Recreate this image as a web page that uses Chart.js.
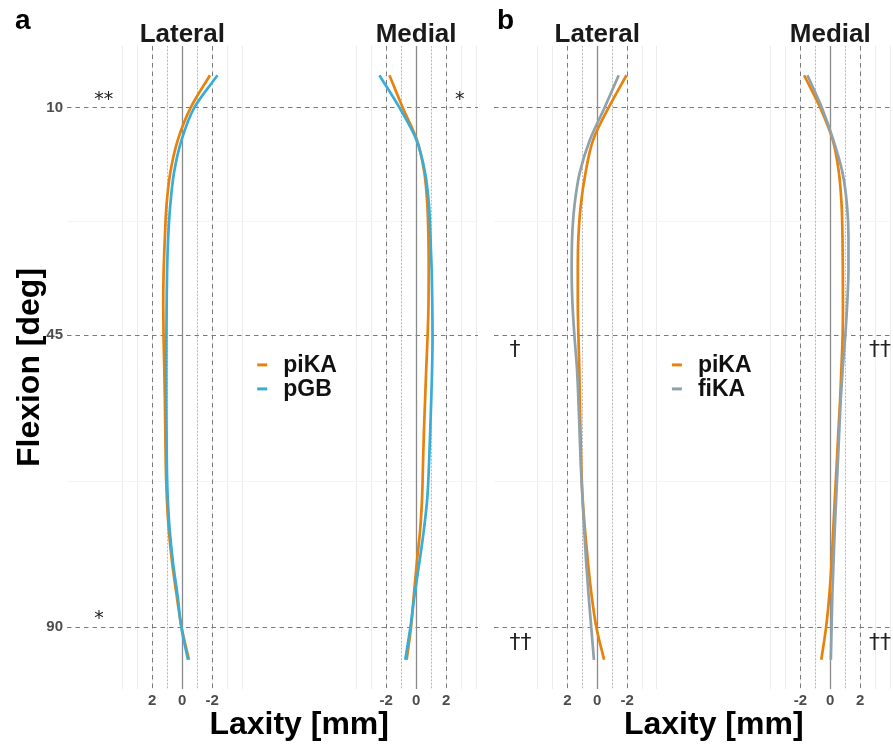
<!DOCTYPE html>
<html><head><meta charset="utf-8">
<script src="https://cdn.jsdelivr.net/npm/chart.js@4/dist/chart.umd.min.js"></script>
<style>
html,body{margin:0;padding:0;background:#fff;}
#wrap{position:relative;width:893px;height:744px;overflow:hidden;background:#fff;}
canvas{position:absolute;top:0;}
</style></head><body>
<div id="wrap">
<canvas id="ca" width="486" height="744" style="left:0px"></canvas>
<canvas id="cb" width="407" height="744" style="left:486px"></canvas>
</div>
<script>
// ---------------- data (laxity in mm vs flexion in deg) ----------------
const flexion = [5,10,15,20,25,30,35,40,45,50,55,60,65,70,75,80,85,90,95];

const aLateral_piKA = [-1.85,-0.56,0.30,0.80,1.05,1.16,1.24,1.27,1.25,1.20,1.16,1.13,1.10,1.03,0.90,0.68,0.38,0.05,-0.45];
const aLateral_pGB  = [-2.35,-0.80,0.05,0.55,0.80,0.94,1.01,1.04,1.06,1.07,1.07,1.05,1.03,0.97,0.84,0.62,0.32,0.06,-0.38];
const aMedial_piKA  = [-1.78,-0.89,0.06,0.55,0.75,0.82,0.84,0.83,0.77,0.68,0.60,0.52,0.46,0.40,0.27,0.05,-0.15,-0.34,-0.63];
const aMedial_pGB   = [-2.45,-1.11,0.03,0.60,0.86,0.96,1.04,1.08,1.10,1.07,1.01,0.94,0.86,0.75,0.52,0.22,-0.10,-0.38,-0.72];

const bLateral_piKA = [-1.96,-0.76,0.28,0.78,1.10,1.26,1.30,1.30,1.26,1.20,1.16,1.12,1.07,0.98,0.82,0.62,0.38,0.06,-0.46];
const bLateral_fiKA = [-1.44,-0.49,0.50,1.17,1.52,1.68,1.71,1.66,1.53,1.36,1.26,1.18,1.10,0.99,0.87,0.74,0.58,0.40,0.22];
const bMedial_piKA  = [-1.75,-0.67,0.17,0.58,0.76,0.82,0.84,0.85,0.83,0.75,0.66,0.54,0.43,0.31,0.20,0.09,-0.06,-0.28,-0.60];
const bMedial_fiKA  = [-1.53,-0.56,0.21,0.82,1.12,1.22,1.22,1.14,1.01,0.84,0.70,0.60,0.50,0.40,0.30,0.22,0.14,0.09,0.04];

const flexionTicks = [10,45,90];
const flexionMinor = [27.5,67.5];
const laxityGrid = [-4,-3,-2,-1,0,1,2,3,4];
const laxityTickLabels = [2,0,-2];
const refSolid = [0];
const refDotted = [-1,1];
const refDashed = [-2,2];
const compartments = ['Lateral','Medial'];
const medialOffset = 15.6;   // separation of the two compartments on the shared axis

const notesA = [
  {text:'**', x:-5.87, y:8.9},
  {text:'*',  x:18.2,  y:8.9},
  {text:'*',  x:-5.87, y:88.8}
];
const notesB = [
  {text:'\u2020',       x:-5.87, y:47.3},
  {text:'\u2020\u2020', x:18.2,  y:47.3},
  {text:'\u2020\u2020', x:-5.87, y:92.4},
  {text:'\u2020\u2020', x:18.2,  y:92.4}
];

const COL_PIKA = '#E8820C';
const COL_PGB  = '#3AADD6';
const COL_FIKA = '#8FA1AA';
const FONT = "'Liberation Sans', Arial, Helvetica, sans-serif";

// ---------------- helpers ----------------
function toPts(arr, side){
  return arr.map((v,i)=>({x: side==='lat' ? -v : medialOffset + v, y: flexion[i]}));
}
function ds(label, arr, side, color, order){
  return {label, data: toPts(arr, side), borderColor: color, backgroundColor: color,
          borderWidth: 2.7, pointRadius: 0, cubicInterpolationMode: 'monotone', indexAxis: 'y',
          fill: false, order: order, borderCapStyle: 'butt'};
}

const panelDeco = {
  id: 'panelDeco',
  beforeDatasetsDraw(chart, args, o){
    const {ctx, chartArea: ca, scales: {x, y}} = chart;
    ctx.save();
    const line = (x1,y1,x2,y2)=>{ctx.beginPath();ctx.moveTo(x1,y1);ctx.lineTo(x2,y2);ctx.stroke();};
    ctx.strokeStyle = '#f4f4f4'; ctx.lineWidth = 1; ctx.setLineDash([]);
    flexionMinor.forEach(v=>{const py=Math.round(y.getPixelForValue(v))+0.5; line(ca.left,py,ca.right,py);});
    const styles = [
      {vals: refDotted, color:'#b5b5b5', width:1,   dash:[1.5,2]},
      {vals: refDashed, color:'#7a7a7a', width:1,   dash:[4.5,4]},
      {vals: refSolid,  color:'#8a8a8a', width:1.3, dash:[]}
    ];
    [0, medialOffset].forEach((c, k)=>{
      styles.forEach(s=>{
        ctx.strokeStyle = s.color; ctx.lineWidth = s.width; ctx.setLineDash(s.dash);
        s.vals.forEach(v=>{
          const px = Math.round(x.getPixelForValue(k===0 ? c - v : c + v)) + 0.5;
          line(px, ca.top, px, ca.bottom);
        });
      });
    });
    ctx.restore();
  },
  afterDraw(chart, args, o){
    const {ctx, chartArea: ca, scales: {x, y}} = chart;
    ctx.save();
    ctx.setLineDash([]);
    // compartment titles
    ctx.fillStyle = '#1a1a1a';
    ctx.font = 'bold 26px ' + FONT;
    ctx.textAlign = 'center'; ctx.textBaseline = 'alphabetic';
    compartments.forEach((t,k)=>{
      ctx.fillText(t, x.getPixelForValue(k===0 ? 0 : medialOffset), 42);
    });
    // x axis title centred between compartments
    ctx.fillStyle = '#000';
    ctx.font = 'bold 32px ' + FONT;
    ctx.fillText('Laxity [mm]', x.getPixelForValue(medialOffset/2), 734);
    // panel letter
    ctx.textAlign = 'left';
    ctx.font = 'bold 28px ' + FONT;
    ctx.fillText(o.letter, o.letterX, 29);
    // legend
    const seen = [];
    chart.data.datasets.forEach(d=>{ if(!seen.find(s=>s.label===d.label)) seen.push(d); });
    seen.sort((a,b)=>b.order-a.order);
    const lx = x.getPixelForValue(o.legendX);
    const ly = y.getPixelForValue(o.legendY);
    ctx.font = 'bold 23px ' + FONT;
    ctx.textBaseline = 'middle';
    seen.forEach((d,i)=>{
      const yy = ly + i*24;
      ctx.strokeStyle = d.borderColor; ctx.lineWidth = 3;
      ctx.beginPath(); ctx.moveTo(lx, yy); ctx.lineTo(lx+10, yy); ctx.stroke();
      ctx.fillStyle = '#111';
      ctx.fillText(d.label, lx+26, yy+1);
    });
    // significance notes
    ctx.fillStyle = '#222';
    ctx.textAlign = 'left'; ctx.textBaseline = 'middle';
    o.notes.forEach(n=>{
      ctx.font = (n.text.indexOf('*')>=0 ? '19px ' : '22px ') + "'DejaVu Sans', sans-serif";
      ctx.fillText(n.text, x.getPixelForValue(n.x), y.getPixelForValue(n.y));
    });
    ctx.restore();
  }
};

function makePanel(id, datasets, opts){
  return new Chart(document.getElementById(id), {
    type: 'line',
    data: {datasets},
    options: {
      responsive: false, animation: false, devicePixelRatio: 1,
      indexAxis: 'y',
      layout: {padding: {left: opts.padLeft, right: opts.padRight, top: 46, bottom: 0}},
      plugins: {legend: {display: false}, tooltip: {enabled: false},
        panelDeco: {letter: opts.letter, letterX: opts.letterX, legendX: 5.0, legendY: 49.6, notes: opts.notes}},
      scales: {
        x: {type: 'linear', position: 'bottom', min: opts.xmin, max: opts.xmax,
            afterFit(s){ s.height = 55; },
            afterBuildTicks(s){
              const t = [];
              laxityGrid.forEach(v=>t.push({value: -v}));
              laxityGrid.forEach(v=>t.push({value: medialOffset + v}));
              s.ticks = t;
            },
            grid: {color: '#ededed', lineWidth: 1, drawTicks: false},
            border: {display: false},
            ticks: {autoSkip: false, maxRotation: 0, padding: 3, color: '#4d4d4d',
                    font: {family: FONT, size: 15, weight: 'bold'},
                    callback(v){
                      const lax = v < medialOffset/2 ? -v : v - medialOffset;
                      const r = Math.round(lax*100)/100;
                      return laxityTickLabels.includes(r) ? String(r) : '';
                    }}
        },
        y: {type: 'linear', reverse: true, min: 0.5, max: 99.5,
            afterFit(s){ s.width = opts.yWidth; },
            afterBuildTicks(s){ s.ticks = flexionTicks.map(v=>({value: v})); },
            grid: {color: '#7a7a7a', lineWidth: 1, drawTicks: false},
            border: {display: false, dash: [4.5,4]},
            ticks: {display: opts.showY, padding: 4, color: '#4d4d4d',
                    font: {family: FONT, size: 15, weight: 'bold'}},
            title: {display: opts.showY, text: 'Flexion [deg]', color: '#000',
                    font: {family: FONT, size: 32, weight: 'bold'}, padding: {top: 11, bottom: 0}}
        }
      }
    },
    plugins: [panelDeco]
  });
}

makePanel('ca', [
  ds('piKA', aLateral_piKA, 'lat', COL_PIKA, 1),
  ds('piKA', aMedial_piKA,  'med', COL_PIKA, 1),
  ds('pGB',  aLateral_pGB,  'lat', COL_PGB, 0),
  ds('pGB',  aMedial_pGB,   'med', COL_PGB, 0)
], {xmin: -7.69, xmax: 19.73, padLeft: 0, padRight: 8, yWidth: 67, showY: true,
    letter: 'a', letterX: 15, notes: notesA});

makePanel('cb', [
  ds('piKA', bLateral_piKA, 'lat', COL_PIKA, 1),
  ds('piKA', bMedial_piKA,  'med', COL_PIKA, 1),
  ds('fiKA', bLateral_fiKA, 'lat', COL_FIKA, 0),
  ds('fiKA', bMedial_fiKA,  'med', COL_FIKA, 0)
], {xmin: -6.91, xmax: 19.67, padLeft: 8, padRight: 0, yWidth: 0, showY: false,
    letter: 'b', letterX: 11, notes: notesB});
</script>
</body></html>
